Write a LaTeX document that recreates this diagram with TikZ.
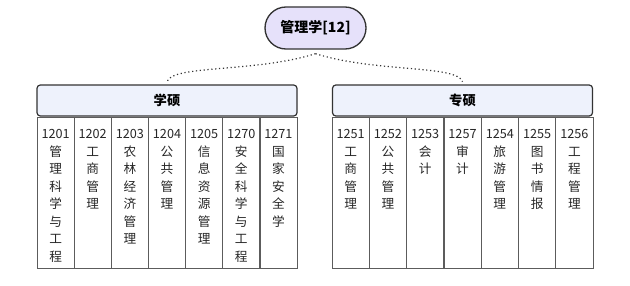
\documentclass[tikz,border=0pt]{standalone}
\usepackage{fontspec}
\setmainfont{Noto Sans CJK SC}
\usepackage{xcolor}
\usetikzlibrary{shapes.misc,positioning}
\definecolor{rootfill}{HTML}{E6E1FA}
\definecolor{headfill}{HTML}{EEF2FC}
\definecolor{edgegray}{HTML}{333333}
\tikzset{
  dgroot/.style={
    rounded rectangle, draw=edgegray, fill=rootfill, line width=1pt,
    minimum width=75.75pt, minimum height=31.5pt, inner sep=0pt,
    font=\fontsize{10.5}{12}\selectfont\bfseries
  },
  dghead/.style={
    rectangle, rounded corners=2.5pt, draw=edgegray, fill=headfill, line width=0.9pt,
    minimum width=195pt, minimum height=23.25pt, inner sep=0pt,
    font=\fontsize{10}{12}\selectfont\bfseries
  },
  dgcol/.style={
    rectangle, draw=edgegray!80, line width=0.6pt,
    minimum width=27.9pt, minimum height=113.25pt, inner sep=0pt
  },
  dgtext/.style={
    align=center, inner sep=0pt, text=black!85,
    font=\fontsize{9.5}{13.1}\selectfont
  },
  dglink/.style={dotted, line width=0.9pt, draw=edgegray}
}
\begin{document}
\begin{tikzpicture}[x=0.75pt,y=-0.75pt]
  \useasboundingbox (0,0) rectangle (630,285);

  % Root
  \node[dgroot] (root) at (315.5,28) {管理学[12]};

  % Academic master
  \node[dghead] (xs) at (167,100.5) {学硕};
  \node[dgcol] (c1201) at (55.6,192.5) {};
  \node[dgcol] (c1202) at (92.7,192.5) {};
  \node[dgcol] (c1203) at (129.9,192.5) {};
  \node[dgcol] (c1204) at (167.0,192.5) {};
  \node[dgcol] (c1205) at (204.1,192.5) {};
  \node[dgcol] (c1270) at (241.3,192.5) {};
  \node[dgcol] (c1271) at (278.4,192.5) {};
  \node[dgtext,below=9.6pt of c1201.north] (t1201) {1201\\管\\理\\科\\学\\与\\工\\程};
  \node[dgtext,below=9.6pt of c1202.north] (t1202) {1202\\工\\商\\管\\理};
  \node[dgtext,below=9.6pt of c1203.north] (t1203) {1203\\农\\林\\经\\济\\管\\理};
  \node[dgtext,below=9.6pt of c1204.north] (t1204) {1204\\公\\共\\管\\理};
  \node[dgtext,below=9.6pt of c1205.north] (t1205) {1205\\信\\息\\资\\源\\管\\理};
  \node[dgtext,below=9.6pt of c1270.north] (t1270) {1270\\安\\全\\科\\学\\与\\工\\程};
  \node[dgtext,below=9.6pt of c1271.north] (t1271) {1271\\国\\家\\安\\全\\学};

  % Professional master
  \node[dghead] (zs) at (462.5,100.5) {专硕};
  \node[dgcol] (c1251) at (350.6,192.5) {};
  \node[dgcol] (c1252) at (387.9,192.5) {};
  \node[dgcol] (c1253) at (425.2,192.5) {};
  \node[dgcol] (c1257) at (462.5,192.5) {};
  \node[dgcol] (c1254) at (499.8,192.5) {};
  \node[dgcol] (c1255) at (537.1,192.5) {};
  \node[dgcol] (c1256) at (574.4,192.5) {};
  \node[dgtext,below=9.6pt of c1251.north] (t1251) {1251\\工\\商\\管\\理};
  \node[dgtext,below=9.6pt of c1252.north] (t1252) {1252\\公\\共\\管\\理};
  \node[dgtext,below=9.6pt of c1253.north] (t1253) {1253\\会\\计};
  \node[dgtext,below=9.6pt of c1257.north] (t1257) {1257\\审\\计};
  \node[dgtext,below=9.6pt of c1254.north] (t1254) {1254\\旅\\游\\管\\理};
  \node[dgtext,below=9.6pt of c1255.north] (t1255) {1255\\图\\书\\情\\报};
  \node[dgtext,below=9.6pt of c1256.north] (t1256) {1256\\工\\程\\管\\理};

  % Links
  \draw[dglink] ([yshift=-3pt]root.south) .. controls +(-60,19) and +(5,-17) .. ([yshift=2pt]xs.north);
  \draw[dglink] ([yshift=-3pt]root.south) .. controls +(60,19) and +(-5,-17) .. ([yshift=2pt]zs.north);
\end{tikzpicture}
\end{document}
